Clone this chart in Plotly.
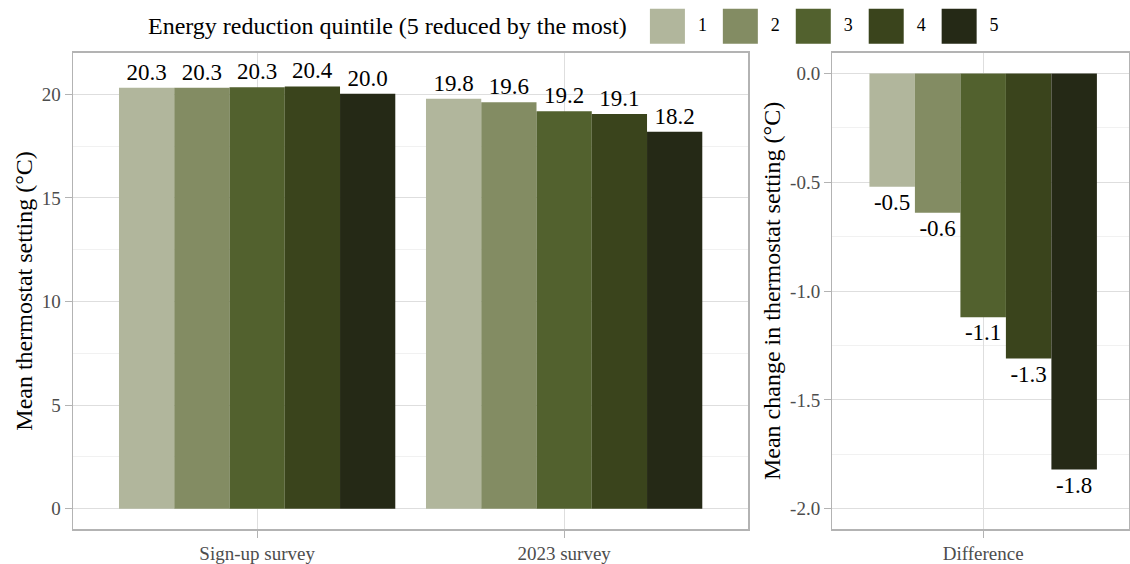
import plotly.graph_objects as go

# ---- data ----
surveys = ["Sign-up survey", "2023 survey"]
quintiles = ["1", "2", "3", "4", "5"]
signup_vals = [20.32, 20.31, 20.34, 20.38, 20.02]
y2023_vals = [19.78, 19.62, 19.18, 19.05, 18.19]
diff_vals = [-0.52, -0.64, -1.12, -1.31, -1.82]
diff_cat = ["Difference"]
colors = ["#B1B69C", "#838C63", "#52612E", "#3A441C", "#252916"]
left_ticks = [0, 5, 10, 15, 20]
right_tickvals = [-2.0, -1.5, -1.0, -0.5, 0.0]
right_ticktext = ["-2.0", "-1.5", "-1.0", "-0.5", "0.0"]
legend_title = "Energy reduction quintile (5 reduced by the most)"
left_ytitle = "Mean thermostat setting (°C)"
right_ytitle = "Mean change in thermostat setting (°C)"

FONT = "Liberation Serif, Times New Roman, serif"
W, H = 1130, 564
TICKCOL = "#4D4D4D"
GRID = "#DEDEDE"
MINOR = "#EBEBEB"
BORDER = "#B3B3B3"

label_font = dict(family=FONT, size=23, color="black")

fig = go.Figure()

for i, q in enumerate(quintiles):
    vals = [signup_vals[i], y2023_vals[i]]
    fig.add_trace(go.Bar(
        x=surveys, y=vals, name=q, marker=dict(color=colors[i], line=dict(width=0)),
        offsetgroup=q, text=[f"{v:.1f}" for v in vals], textposition="outside",
        textfont=label_font, outsidetextfont=label_font, constraintext="none",
        cliponaxis=False, showlegend=False, xaxis="x", yaxis="y",
    ))
    fig.add_trace(go.Bar(
        x=diff_cat, y=[diff_vals[i]], name=q, marker=dict(color=colors[i], line=dict(width=0)),
        offsetgroup=q, text=[f"{diff_vals[i]:.1f}"], textposition="outside",
        textfont=label_font, outsidetextfont=label_font, constraintext="none",
        cliponaxis=False, showlegend=False, xaxis="x2", yaxis="y2",
    ))

# custom legend (large swatches like ggplot)
legend_x = [int(q) for q in quintiles]
fig.add_trace(go.Scatter(
    x=legend_x, y=[0.5] * len(quintiles), mode="markers",
    marker=dict(symbol="square", size=35, color=colors, line=dict(width=0)),
    showlegend=False, hoverinfo="skip", xaxis="x3", yaxis="y3", cliponaxis=False,
))
fig.add_trace(go.Scatter(
    x=legend_x, y=[0.5] * len(quintiles), mode="text",
    text=quintiles, textposition="middle center",
    textfont=dict(family=FONT, size=18, color="black"),
    showlegend=False, hoverinfo="skip", xaxis="x4", yaxis="y3", cliponaxis=False,
))

ydom = [31 / H, 511 / H]
common_x = dict(type="category", showgrid=True, gridcolor=GRID, gridwidth=1,
                ticks="outside", ticklen=7, tickcolor=BORDER,
                tickfont=dict(family=FONT, size=19, color=TICKCOL),
                showline=True, linecolor=BORDER, linewidth=1.3, mirror=True, zeroline=False)
common_y = dict(showgrid=True, gridcolor=GRID, gridwidth=1,
                ticks="outside", ticklen=7, tickcolor=BORDER,
                tickfont=dict(family=FONT, size=19, color=TICKCOL),
                showline=True, linecolor=BORDER, linewidth=1.3, mirror=True, zeroline=False)

fig.update_layout(
    width=W, height=H, margin=dict(l=0, r=0, t=0, b=0),
    paper_bgcolor="white", plot_bgcolor="rgba(0,0,0,0)",
    barmode="group", bargap=0.1, bargroupgap=0,
    font=dict(family=FONT, color="black"),
    hovermode=False,
    xaxis=dict(domain=[73 / W, 749 / W], anchor="y", range=[-0.6, 1.6], **common_x),
    yaxis=dict(domain=ydom, anchor="x", range=[-0.99, 22.01], tickvals=left_ticks,
               minor=dict(dtick=2.5, showgrid=True, gridcolor=MINOR, gridwidth=0.7, ticks=""),
               title=dict(text=left_ytitle, font=dict(family=FONT, size=24, color="black"), standoff=2),
               **common_y),
    xaxis2=dict(domain=[833 / W, 1.0], anchor="y2", range=[-0.597, 0.577], **common_x),
    yaxis2=dict(domain=ydom, anchor="x2", range=[-2.094, 0.096], tickvals=right_tickvals,
                ticktext=right_ticktext,
                minor=dict(dtick=0.25, showgrid=True, gridcolor=MINOR, gridwidth=0.7, ticks=""),
                title=dict(text=right_ytitle, font=dict(family=FONT, size=24, color="black"), standoff=2),
                **common_y),
    xaxis3=dict(domain=[631.5 / W, 996.5 / W], anchor="y3", range=[0.5, 5.5], visible=False, fixedrange=True),
    xaxis4=dict(domain=[666.5 / W, 1031.5 / W], anchor="y3", range=[0.5, 5.5], visible=False, fixedrange=True),
    yaxis3=dict(domain=[(H - 44) / H, (H - 9) / H], anchor="x3", range=[0, 1], visible=False, fixedrange=True),
    annotations=[dict(text=legend_title, xref="paper", yref="paper", x=630 / W, y=(H - 26.5) / H,
                      xanchor="right", yanchor="middle", showarrow=False,
                      font=dict(family=FONT, size=24, color="black"))],
)

fig.write_html("out.html", config={"displayModeBar": False, "staticPlot": True},
               post_script="document.body.style.margin='0';document.body.style.overflow='hidden';")
